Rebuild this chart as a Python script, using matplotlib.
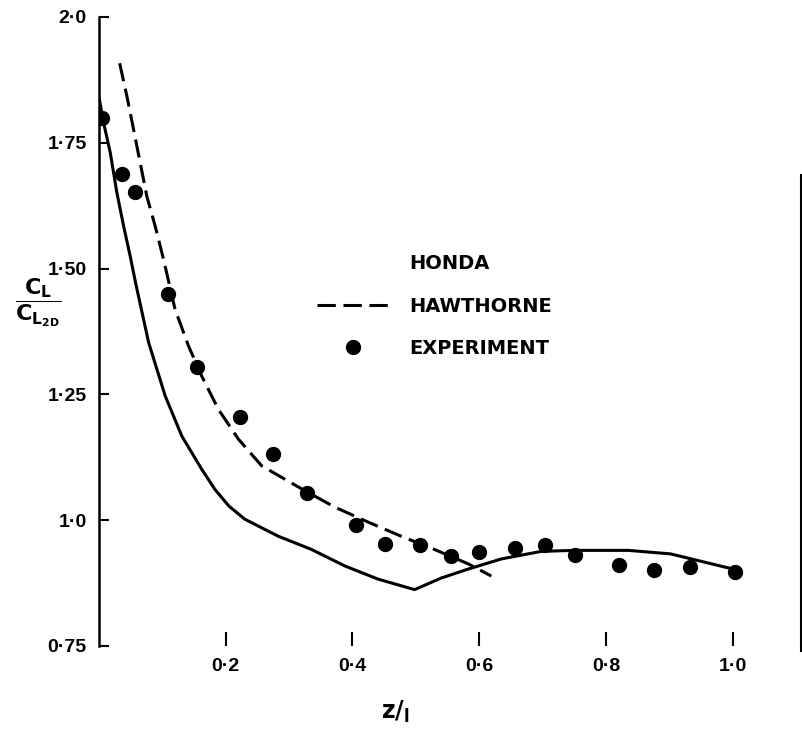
import matplotlib.pyplot as plt
from matplotlib.lines import Line2D

# Honda theory (solid)
honda_x = [0.0, 0.0074, 0.0178, 0.0283, 0.0389, 0.0493, 0.058, 0.0783, 0.1044, 0.1307,
           0.1622, 0.183, 0.205, 0.23, 0.283, 0.335, 0.388, 0.44, 0.498, 0.54, 0.583,
           0.635, 0.698, 0.75, 0.835, 0.902, 1.0]
honda_y = [1.84, 1.789, 1.73, 1.65, 1.584, 1.524, 1.47, 1.353, 1.247, 1.167,
           1.101, 1.061, 1.028, 1.002, 0.968, 0.942, 0.909, 0.883, 0.862, 0.885, 0.903,
           0.923, 0.938, 0.94, 0.94, 0.933, 0.903]

# Hawthorne theory (dashed)
haw_x = [0.0326, 0.0441, 0.0546, 0.065, 0.0756, 0.0887, 0.1019, 0.120, 0.1413, 0.1622,
         0.1885, 0.22, 0.2567, 0.32, 0.372, 0.425, 0.477, 0.529, 0.583, 0.619]
haw_y = [1.908, 1.842, 1.776, 1.71, 1.643, 1.584, 1.518, 1.419, 1.346, 1.286,
         1.22, 1.161, 1.108, 1.062, 1.026, 0.996, 0.968, 0.942, 0.913, 0.889]

# experiment
exp_x = [0.005, 0.036, 0.057, 0.109, 0.154, 0.222, 0.274, 0.329, 0.405, 0.452,
         0.506, 0.556, 0.600, 0.657, 0.704, 0.751, 0.820, 0.876, 0.932, 1.003]
exp_y = [1.80, 1.688, 1.653, 1.45, 1.305, 1.206, 1.131, 1.054, 0.99, 0.952,
         0.95, 0.929, 0.937, 0.944, 0.950, 0.930, 0.911, 0.901, 0.907, 0.897]

yticks = [0.75, 1.0, 1.25, 1.5, 1.75, 2.0]
ytick_labels = ['0·75', '1·0', '1·25', '1·50', '1·75', '2·0']
xticks = [0.2, 0.4, 0.6, 0.8, 1.0]
xtick_labels = ['0·2', '0·4', '0·6', '0·8', '1·0']

plt.rcParams['font.family'] = 'DejaVu Sans'
plt.rcParams['font.weight'] = 'bold'
plt.rcParams['mathtext.fontset'] = 'dejavusans'

fig = plt.figure(figsize=(8.03, 7.37), dpi=100)
ax = fig.add_axes([0.1233, 0.1235, 0.8736, 0.8535])

ax.plot(honda_x, honda_y, c='black', lw=2.2)
ax.plot(haw_x, haw_y, c='black', lw=2.2, dashes=(6, 2.5))
ax.plot(exp_x, exp_y, 'o', c='black', ms=10, ls='none')

ax.set_xlim(0, 1.107)
ax.set_ylim(0.75, 2.0)

ax.spines['top'].set_visible(False)
ax.spines['bottom'].set_visible(False)
ax.spines['left'].set_linewidth(1.8)
ax.spines['right'].set_linewidth(1.5)
ax.spines['right'].set_bounds(0.74, 1.686)

ax.set_yticks(yticks)
ax.set_yticklabels(ytick_labels, family='Liberation Sans', fontsize=14)
ax.set_xticks(xticks)
ax.set_xticklabels(xtick_labels, family='Liberation Sans', fontsize=14)
ax.tick_params(axis='y', direction='in', length=7, width=1.5, pad=9)
ax.tick_params(axis='x', direction='in', length=10, width=1.5, pad=9)

# y label as fraction
fig.text(0.048, 0.590, r'$\dfrac{\mathrm{C_L}}{\mathrm{C_{L_{2D}}}}$', fontsize=16,
         ha='center', va='center')
fig.text(0.492, 0.034, r'$\mathrm{z}/_{\mathrm{l}}$', fontsize=17, ha='center', va='center')

handles = [Line2D([], [], c='none'),
           Line2D([], [], c='black', lw=2.2, dashes=(6, 2.5)),
           Line2D([], [], c='black', marker='o', ms=10, ls='none')]
ax.legend(handles, ['HONDA', 'HAWTHORNE', 'EXPERIMENT'],
          loc='upper left', bbox_to_anchor=(0.395, 0.655), bbox_transform=fig.transFigure,
          frameon=False, fontsize=14, handlelength=3.65, handletextpad=1.1,
          labelspacing=1.2, borderpad=0, borderaxespad=0)

fig.savefig('out.png', dpi=100)
